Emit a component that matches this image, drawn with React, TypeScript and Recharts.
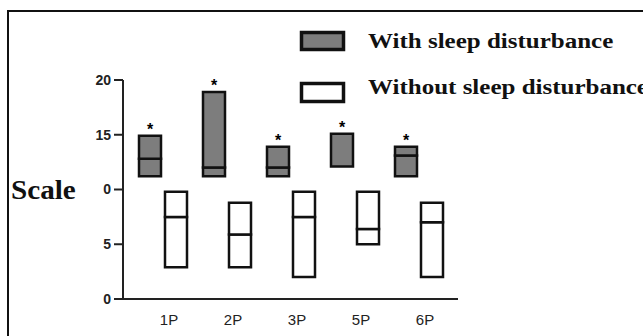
import React from 'react';
import { ComposedChart, Bar, XAxis, YAxis, LabelList } from 'recharts';

const categories = ['1P', '2P', '3P', '5P', '6P'];
const withLow = [11.2, 11.2, 11.2, 12.1, 11.2];
const withMedian = [12.8, 12.0, 12.0, 12.1, 13.1];
const withHigh = [14.9, 18.9, 13.9, 15.1, 13.9];
const withoutLow = [2.9, 2.9, 2.0, 5.0, 2.0];
const withoutMedian = [7.5, 5.9, 7.5, 6.4, 7.0];
const withoutHigh = [9.8, 8.8, 9.8, 9.8, 8.8];
const yTicks = [0, 5, 10, 15, 20];
const yTickLabels = ['0', '5', '0', '15', '20'];
const seriesNames = ['With sleep disturbance', 'Without sleep disturbance'];
const axisTitle = 'Scale';

const data = categories.map((name, i) => ({
  name,
  wBase: withLow[i],
  wLower: withMedian[i] - withLow[i],
  wUpper: withHigh[i] - withMedian[i],
  oBase: withoutLow[i],
  oLower: withoutMedian[i] - withoutLow[i],
  oUpper: withoutHigh[i] - withoutMedian[i],
}));

const GRAY = '#7d7d7d';
const INK = '#111';

export default function App() {
  return (
    <div
      style={{
        position: 'absolute',
        left: 0,
        top: 0,
        width: 643,
        height: 336,
        overflow: 'hidden',
        background: '#fff',
      }}
    >
      <div
        style={{
          position: 'absolute',
          left: 7,
          top: 10,
          width: 660,
          height: 360,
          borderTop: `2px solid ${INK}`,
          borderLeft: `2px solid ${INK}`,
        }}
      />
      <ComposedChart
        width={643}
        height={336}
        data={data}
        margin={{ top: 80, right: 185, bottom: 7, left: 0 }}
        barSize={22}
        barGap={4}
        style={{ position: 'absolute', left: 0, top: 0 }}
      >
        <XAxis
          dataKey="name"
          height={30}
          padding={{ left: 8, right: 7 }}
          tickLine={false}
          tickSize={0}
          tickMargin={15}
          axisLine={{ stroke: '#222', strokeWidth: 2 }}
          tick={{ fill: '#222', fontSize: 15, fontFamily: 'Liberation Sans, Arial, sans-serif', dx: 6 }}
        />
        <YAxis
          width={123}
          domain={[0, 20]}
          ticks={yTicks}
          tickFormatter={(v: number) => yTickLabels[yTicks.indexOf(v)]}
          tickSize={9}
          tickMargin={3}
          axisLine={{ stroke: '#222', strokeWidth: 2 }}
          tickLine={{ stroke: '#222', strokeWidth: 2 }}
          tick={{ fill: '#222', fontSize: 14, fontWeight: 'bold', fontFamily: 'Liberation Sans, Arial, sans-serif' }}
        />
        <Bar dataKey="wBase" stackId="with" fill="none" stroke="none" isAnimationActive={false} />
        <Bar dataKey="wLower" stackId="with" fill={GRAY} stroke={INK} strokeWidth={2.5} isAnimationActive={false} />
        <Bar dataKey="wUpper" stackId="with" fill={GRAY} stroke={INK} strokeWidth={2.5} isAnimationActive={false}>
          <LabelList
            dataKey="wUpper"
            position="top"
            offset={1}
            formatter={() => '*'}
            fill="#000"
            fontSize={16}
            fontWeight="bold"
            fontFamily="Liberation Sans, Arial, sans-serif"
          />
        </Bar>
        <Bar dataKey="oBase" stackId="without" fill="none" stroke="none" isAnimationActive={false} />
        <Bar dataKey="oLower" stackId="without" fill="#fff" stroke={INK} strokeWidth={2.5} isAnimationActive={false} />
        <Bar dataKey="oUpper" stackId="without" fill="#fff" stroke={INK} strokeWidth={2.5} isAnimationActive={false} />
      </ComposedChart>
      <svg
        width={643}
        height={336}
        style={{ position: 'absolute', left: 0, top: 0, pointerEvents: 'none' }}
      >
        <rect x={301.5} y={32.5} width={42} height={17} fill={GRAY} stroke={INK} strokeWidth={3.5} />
        <rect x={301.5} y={83.5} width={42} height={18} fill="#fff" stroke={INK} strokeWidth={3.5} />
        <text
          transform="translate(368,48) scale(1.25,1)"
          fontFamily="Liberation Serif, Times New Roman, serif"
          fontWeight="bold"
          fontSize={20}
          fill={INK}
        >
          {seriesNames[0]}
        </text>
        <text
          transform="translate(368,94) scale(1.25,1)"
          fontFamily="Liberation Serif, Times New Roman, serif"
          fontWeight="bold"
          fontSize={20}
          fill={INK}
        >
          {seriesNames[1]}
        </text>
        <text
          transform="translate(11,199) scale(1.08,1)"
          fontFamily="Liberation Serif, Times New Roman, serif"
          fontWeight="bold"
          fontSize={27}
          fill={INK}
        >
          {axisTitle}
        </text>
      </svg>
    </div>
  );
}
